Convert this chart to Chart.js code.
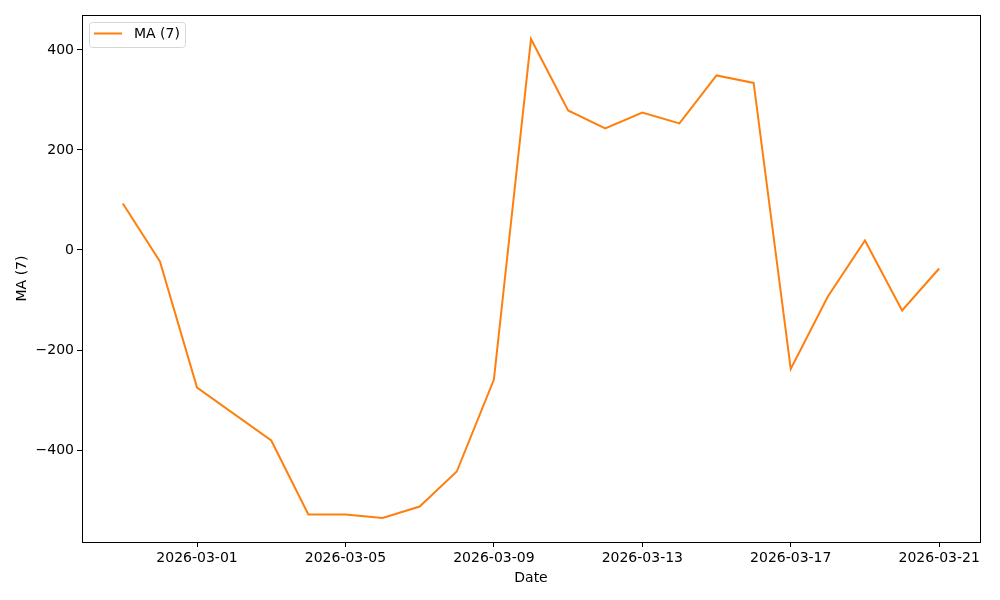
<!DOCTYPE html>
<html>
<head>
<meta charset="utf-8">
<script src="https://cdn.jsdelivr.net/npm/chart.js@4/dist/chart.umd.min.js"></script>
<style>
html, body { margin: 0; padding: 0; background: #fff; }
#wrap { width: 1000px; height: 600px; }
</style>
</head>
<body>
<div id="wrap"><canvas id="chart" width="1000" height="600"></canvas></div>
<script>
// 7-day moving average, one value per date (03-02 absent in source)
const dates = ['2026-02-27','2026-02-28','2026-03-01','2026-03-03','2026-03-04','2026-03-05',
  '2026-03-06','2026-03-07','2026-03-08','2026-03-09','2026-03-10','2026-03-11','2026-03-12',
  '2026-03-13','2026-03-14','2026-03-15','2026-03-16','2026-03-17','2026-03-18','2026-03-19',
  '2026-03-20','2026-03-21'];
const maValues = [93, -23, -275, -381, -529, -529, -536, -513, -443, -259, 422, 279, 243,
  275, 253, 349, 334, -238, -93, 19, -121, -37];
const xTickDates = ['2026-03-01','2026-03-05','2026-03-09','2026-03-13','2026-03-17','2026-03-21'];
const yTicks = [-400, -200, 0, 200, 400];

const FONT = { family: 'DejaVu Sans', size: 14 };
const DAY = 86400000;
const base = Date.UTC(2026, 2, 1);
function dayNum(s) { const p = s.split('-'); return (Date.UTC(+p[0], p[1] - 1, +p[2]) - base) / DAY; }
function dayLabel(n) { return new Date(base + n * DAY).toISOString().slice(0, 10); }

const points = dates.map((d, i) => ({ x: dayNum(d), y: maValues[i] }));
const xs = points.map(p => p.x);
const xMin = Math.min(...xs), xMax = Math.max(...xs);
const yMin = Math.min(...maValues), yMax = Math.max(...maValues);
const xPad = (xMax - xMin) * 0.05, yPad = (yMax - yMin) * 0.05;

// axes frame + legend box like matplotlib
const framePlugin = {
    id: 'frame',
    afterDraw(chart) {
        const { ctx, chartArea: a } = chart;
        ctx.save();
        ctx.strokeStyle = '#000';
        ctx.lineWidth = 1;
        ctx.strokeRect(Math.round(a.left) + 0.5, Math.round(a.top) + 0.5,
            Math.round(a.right - a.left), Math.round(a.bottom - a.top));

        const bx = a.left + 7, by = a.top + 7, bw = 96, bh = 25, r = 3;
        ctx.beginPath();
        ctx.roundRect(bx + 0.5, by + 0.5, bw, bh, r);
        ctx.fillStyle = 'rgba(255,255,255,0.8)';
        ctx.fill();
        ctx.strokeStyle = '#d6d6d6';
        ctx.stroke();
        ctx.beginPath();
        ctx.moveTo(bx + 5, by + 11.5);
        ctx.lineTo(bx + 33, by + 11.5);
        ctx.strokeStyle = '#ff7f0e';
        ctx.lineWidth = 2;
        ctx.stroke();
        ctx.fillStyle = '#000';
        ctx.font = '14px "DejaVu Sans"';
        ctx.textBaseline = 'middle';
        ctx.fillText(chart.data.datasets[0].label, bx + 45, by + 12);
        ctx.restore();
    }
};

new Chart(document.getElementById('chart'), {
    type: 'line',
    data: {
        datasets: [{
            label: 'MA (7)',
            data: points,
            borderColor: '#ff7f0e',
            borderWidth: 2,
            pointRadius: 0,
            tension: 0,
            fill: false
        }]
    },
    options: {
        responsive: false,
        animation: false,
        layout: { padding: { top: 15, right: 20, left: 0, bottom: 0 } },
        plugins: { legend: { display: false }, tooltip: { enabled: false } },
        scales: {
            x: {
                type: 'linear',
                min: xMin - xPad,
                max: xMax + xPad,
                afterBuildTicks: s => { s.ticks = xTickDates.map(d => ({ value: dayNum(d) })); },
                afterFit: s => { s.height = 58; },
                ticks: { callback: v => dayLabel(v), color: '#000', font: FONT, maxRotation: 0, padding: 3 },
                grid: { drawOnChartArea: false, tickLength: 5, color: '#000' },
                border: { display: false },
                title: { display: true, text: 'Date', color: '#000', font: FONT, padding: { top: 0, bottom: 13 } }
            },
            y: {
                min: yMin - yPad,
                max: yMax + yPad,
                afterBuildTicks: s => { s.ticks = yTicks.map(v => ({ value: v })); },
                afterFit: s => { s.width = 82; },
                ticks: { callback: v => String(v).replace('-', '\u2212'), color: '#000', font: FONT, padding: 3 },
                grid: { drawOnChartArea: false, tickLength: 5, color: '#000' },
                border: { display: false },
                title: { display: true, text: 'MA (7)', color: '#000', font: FONT, padding: { top: 14 } }
            }
        }
    },
    plugins: [framePlugin]
});
</script>
</body>
</html>
